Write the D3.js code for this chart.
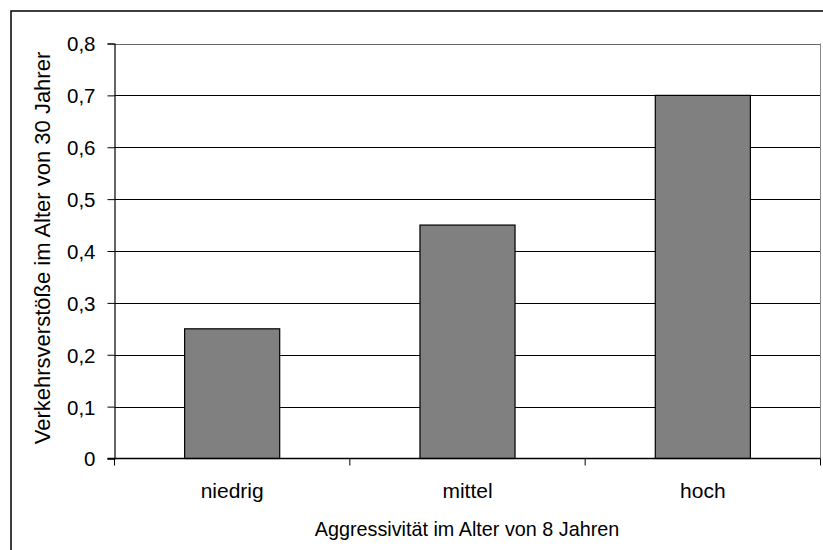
<!DOCTYPE html>
<html><head><meta charset="utf-8">
<script src="https://cdn.jsdelivr.net/npm/d3@7"></script>
<style>body{margin:0;background:#fff}svg{display:block}text{font-family:"Liberation Sans",Arial,sans-serif;fill:#000}</style>
</head><body><svg id="c" width="823" height="550"></svg>
<script>
const categories = ["niedrig", "mittel", "hoch"];
const values = [0.25, 0.45, 0.70];
const yTicks = [0, 0.1, 0.2, 0.3, 0.4, 0.5, 0.6, 0.7, 0.8];
const xTitle = "Aggressivität im Alter von 8 Jahren";
const yTitle = "Verkehrsverstöße im Alter von 30 Jahrer";

const svg = d3.select("#c");
const m = {l:114.5, r:820.5, t:43.5, b:458.5};
svg.append("rect").attr("x",11).attr("y",11).attr("width",830).attr("height",560)
  .attr("fill","#fff").attr("stroke","#000").attr("stroke-width",1.5);

const x = d3.scaleBand().domain(categories).range([m.l, m.r]).paddingInner(0.596).paddingOuter(0.298);
const xb = d3.scaleBand().domain(categories).range([m.l, m.r]).padding(0);
const y = d3.scaleLinear().domain([0,0.8]).range([m.b, m.t]);

// gridlines
svg.append("g").selectAll("line").data(yTicks.slice(1)).join("line")
  .attr("x1",m.l).attr("x2",m.r).attr("y1",d=>Math.round(y(d))+0.5).attr("y2",d=>Math.round(y(d))+0.5)
  .attr("stroke",(d,i)=>i===yTicks.length-2?"#666":"#000").attr("stroke-width",1);
// plot right border
svg.append("line").attr("x1",m.r).attr("x2",m.r).attr("y1",m.t).attr("y2",m.b).attr("stroke","#888");

// bars
svg.append("g").selectAll("rect").data(values).join("rect")
  .attr("x",(d,i)=>x(categories[i])).attr("width",x.bandwidth())
  .attr("y",d=>y(d)).attr("height",d=>y(0)-y(d))
  .attr("fill","#808080").attr("stroke","#000").attr("stroke-width",1.2);

// y axis
const yAxis = d3.axisLeft(y).tickValues(yTicks).tickSize(7).tickPadding(12)
  .tickFormat(d=>d3.format(".1f")(d).replace(".",",").replace(/^0,0$/,"0"));
const gy = svg.append("g").attr("transform",`translate(${m.l},0)`).call(yAxis);
gy.attr("font-size",20).attr("font-family","Liberation Sans, Arial, sans-serif");
gy.select(".domain").attr("stroke","#000").attr("stroke-width",1.2);
gy.selectAll("text").attr("font-size",20.5).attr("dy","0.36em");
gy.selectAll(".tick line").attr("stroke","#000");

// x axis
const gx = svg.append("g").attr("transform",`translate(0,${m.b})`);
gx.append("line").attr("x1",m.l-7).attr("x2",m.r).attr("y1",0).attr("y2",0).attr("stroke","#000").attr("stroke-width",1.5);
const bounds = categories.map(c=>xb(c)).concat([m.r]);
gx.selectAll(".bt").data(bounds).join("line").attr("class","bt")
  .attr("x1",d=>d).attr("x2",d=>d).attr("y1",0).attr("y2",7).attr("stroke","#000");
gx.selectAll(".lbl").data(categories).join("text").attr("class","lbl")
  .attr("x",d=>xb(d)+xb.bandwidth()/2).attr("y",39).attr("text-anchor","middle")
  .attr("font-size",21).text(d=>d);

svg.append("text").attr("x",467).attr("y",536).attr("text-anchor","middle").attr("font-size",19.8).text(xTitle);
svg.append("text").attr("transform",`translate(50,248) rotate(-90)`)
  .attr("text-anchor","middle").attr("font-size",22).text(yTitle);
</script></body></html>
